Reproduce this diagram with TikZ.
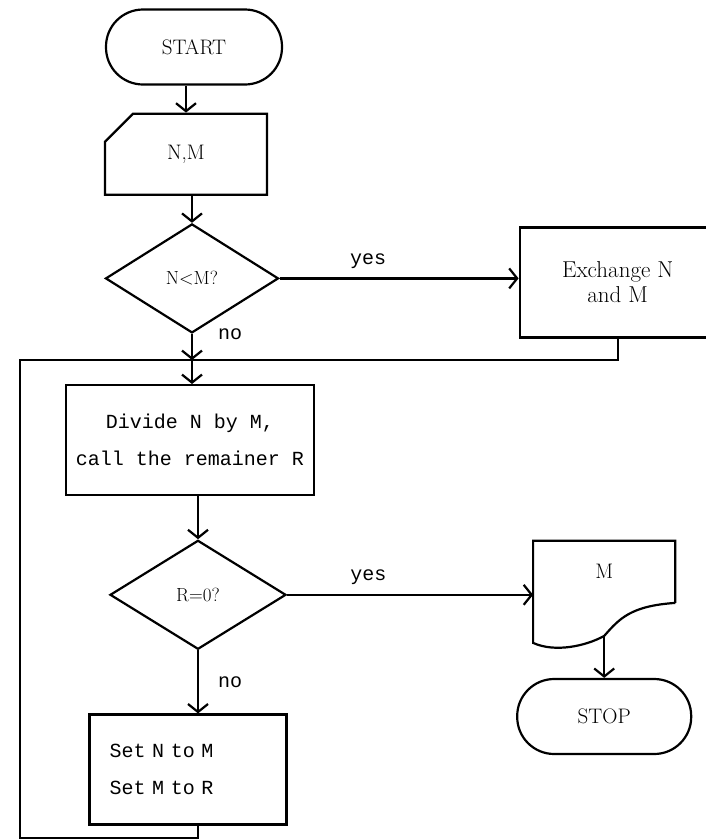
\documentclass[tikz,border=0pt]{standalone}
\usepackage{fontspec}
\setmonofont{Liberation Mono}
\usetikzlibrary{shapes.geometric,shapes.misc,arrows.meta,positioning,calc}

\begin{document}
\begin{tikzpicture}[
    x=1pt, y=-1pt,
    line width=2.2pt,
    term/.style={rectangle, draw, minimum width=176pt, minimum height=75pt, rounded corners=37pt, font=\fontsize{21}{24}\selectfont},
    inbox/.style={chamfered rectangle, chamfered rectangle corners=north west, chamfered rectangle xsep=37pt, chamfered rectangle ysep=33pt, draw, minimum width=162pt, minimum height=81pt, inner sep=0pt, font=\fontsize{21}{24}\selectfont},
    decision/.style={diamond, draw, inner sep=0pt, minimum width=#1, minimum height=109pt, font=\fontsize{19}{22}\selectfont},
    proc/.style={rectangle, draw, minimum width=#1, minimum height=110pt, font=\fontsize{20}{37}\ttfamily},
    lbl/.style={font=\fontsize{20}{24}\ttfamily, inner sep=3pt},
    arrow/.style={-{Straight Barb[length=8pt, width=20pt]}}
]
    \useasboundingbox (0,0) rectangle (705,839);

    % main column
    \node[term] (start) at (194,47) {START};
    \node[inbox, below=27pt of start, xshift=-8pt] (inp) {N,M};
    \node[decision=173pt, below=27pt of inp, xshift=6pt] (dec1) {N<M?};
    \node[rectangle, draw, minimum width=196pt, minimum height=110pt, align=center, font=\fontsize{23}{25}\selectfont, right=239pt of dec1, yshift=-4pt] (exch) {Exchange N\\and M};
    \coordinate (jn) at ($(dec1.south)+(0,26)$);
    \node[proc=248pt, align=center, below=24pt of jn, xshift=-2pt] (div) {Divide N by M,\\call the remainer R};
    \node[decision=176pt, below=43pt of div, xshift=8pt] (dec2) {R=0?};
    \node[proc=197pt, text width=157pt, align=left, below=63pt of dec2, xshift=-10pt] (set) {Set N to M\\Set M to R};

    % output and stop
    \node[rectangle, minimum width=140pt, minimum height=60pt, font=\fontsize{21}{24}\selectfont, right=246pt of dec2, yshift=23pt] (out) {M};
    \coordinate (outb) at ($(out.south)+(0,33)$);
    \draw (out.south east) -- (out.north east) -- (out.north west) -- ($(out.south west)+(0,40)$)
        .. controls ($(out.south west)+(22,50)$) and ($(outb)+(-18,10)$) .. (outb)
        .. controls ($(outb)+(15,-17)$) and ($(out.south east)+(-45,3)$) .. (out.south east);
    \node[term, minimum width=174pt, below=42pt of outb] (stop) {STOP};

    % arrows
    \draw[arrow] (start.south -| inp.north) -- (inp.north);
    \draw[arrow] (inp.south -| dec1.north) -- (dec1.north);
    \draw[arrow] (dec1.east) -- node[lbl, pos=0.37, above=6pt] (yes1) {yes} (dec1.east -| exch.west);
    \draw[arrow] (dec1.south) -- (jn);
    \node[lbl, right=22pt of dec1.south] (no1) {no};
    \draw[arrow] (jn) -- (jn |- div.north);
    \draw[arrow] (div.south -| dec2.north) -- (dec2.north);
    \draw[arrow] (dec2.east) -- node[lbl, pos=0.33, above=6pt] (yes2) {yes} (dec2.east -| out.west);
    \draw[arrow] (dec2.south) -- node[lbl, right=16pt] (no2) {no} (dec2.south |- set.north);
    \draw[arrow] (outb) -- (outb |- stop.north);

    % loop back
    \coordinate (bl) at (20,838);
    \draw (exch.south) |- (jn);
    \draw (set.south -| dec2.south) |- (bl) |- (jn);
\end{tikzpicture}
\end{document}
